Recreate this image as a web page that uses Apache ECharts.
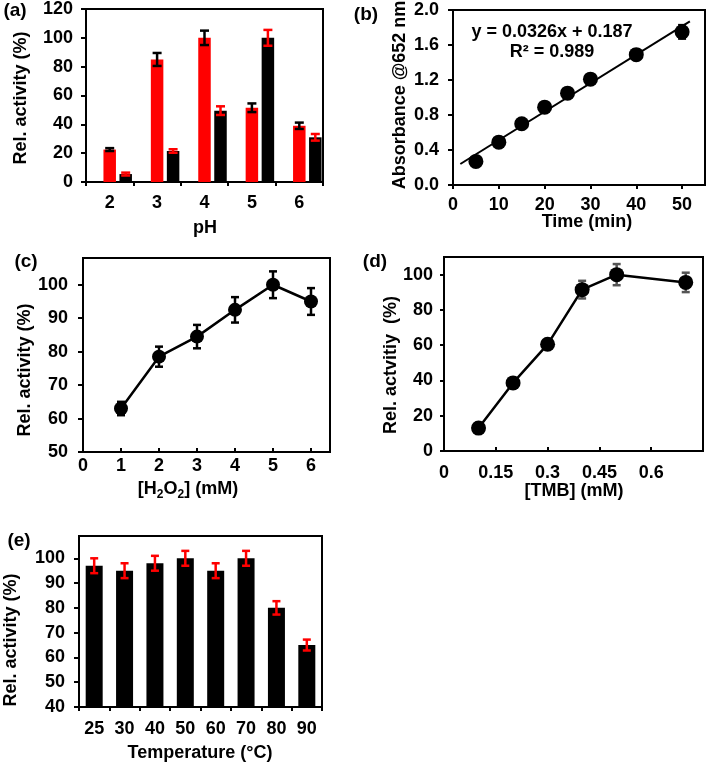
<!DOCTYPE html>
<html><head><meta charset="utf-8">
<script src="https://cdn.jsdelivr.net/npm/echarts@6/dist/echarts.min.js"></script>
<style>html,body{margin:0;padding:0;background:#fff}#c{width:710px;height:765px}</style>
</head><body><div id="c"></div><script>
// ---------- (a) pH ----------
const phCats = ['2', '3', '4', '5', '6'];
const phRed = [22.5, 85, 100, 51.5, 39];
const phRedErr = [1, 4.5, 5, 3, 2.2];
const phBlack = [5.5, 21.5, 49.5, 100, 31];
const phBlackErr = [1, 1.2, 3, 5.5, 2.3];
const aYTicks = [0, 20, 40, 60, 80, 100, 120];
// ---------- (b) time ----------
const timeX = [5, 10, 15, 20, 25, 30, 40, 50];
const absY = [0.27, 0.49, 0.70, 0.89, 1.05, 1.21, 1.49, 1.75];
const absErr = [0.02, 0.02, 0.02, 0.02, 0.02, 0.03, 0.06, 0.08];
const trendX = [1.6, 51.7];
const trendY = [0.24, 1.87];
const bXTicks = [0, 10, 20, 30, 40, 50];
const bYTicks = [0, 0.4, 0.8, 1.2, 1.6, 2.0];
// ---------- (c) H2O2 ----------
const h2o2X = [1, 2, 3, 4, 5, 6];
const h2o2Y = [63, 78.5, 84.5, 92.5, 100, 95];
const h2o2Err = [2, 3, 3.5, 3.8, 4, 4];
const cXTicks = [0, 1, 2, 3, 4, 5, 6];
const cYTicks = [50, 60, 70, 80, 90, 100];
// ---------- (d) TMB ----------
const tmbX = [0.1, 0.2, 0.3, 0.4, 0.5, 0.7];
const tmbY = [13, 38.6, 60.5, 91.5, 100, 95.6];
const tmbErr = [1.5, 2, 2, 5, 6, 5.5];
const dXTicks = [0, 0.15, 0.3, 0.45, 0.6];
const dYTicks = [0, 20, 40, 60, 80, 100];
// ---------- (e) temperature ----------
const tempCats = ['25', '30', '40', '50', '60', '70', '80', '90'];
const tempY = [97, 95, 98, 100, 95, 100, 80, 65];
const tempErr = [3, 3, 3, 3, 3, 3, 2.7, 2.2];
const eYTicks = [40, 50, 60, 70, 80, 90, 100];

const FONT = 'Liberation Sans';
const FS = 18;
const RED = '#ff0000';

function lbl(margin, vals, fmt) {
  const o = {color: '#000', fontWeight: 'bold', fontSize: FS, fontFamily: FONT, margin: margin};
  if (vals) o.customValues = vals;
  if (fmt) o.formatter = fmt;
  return o;
}
function tick(inside, len, vals) {
  const o = {show: true, inside: inside, length: len, lineStyle: {color: '#000', width: 2}};
  if (vals) o.customValues = vals;
  return o;
}
const AL = {show: true, onZero: false, lineStyle: {color: '#000', width: 2}};

function errBar(color, cap, lw, dx) {
  return function (params, api) {
    const x = api.value(0), y = api.value(1), e = api.value(2);
    const p1 = api.coord([x, y + e]);
    const p2 = api.coord([x, y - e]);
    const cx = p1[0] + (dx || 0);
    const st = {stroke: color, lineWidth: lw};
    return {type: 'group', children: [
      {type: 'line', shape: {x1: cx, y1: p1[1], x2: cx, y2: p2[1]}, style: st},
      {type: 'line', shape: {x1: cx - cap / 2, y1: p1[1], x2: cx + cap / 2, y2: p1[1]}, style: st},
      {type: 'line', shape: {x1: cx - cap / 2, y1: p2[1], x2: cx + cap / 2, y2: p2[1]}, style: st}
    ]};
  };
}
function txt(s, x, y, rot, extra) {
  return {type: 'text', x: x, y: y, rotation: rot || 0, z: 100,
    style: Object.assign({text: s, fontSize: FS, fontWeight: 'bold', fontFamily: FONT, fill: '#000',
      align: 'center', verticalAlign: 'middle'}, extra || {})};
}
const R90 = Math.PI / 2;
const gridStyle = {show: true, borderColor: '#000', borderWidth: 2, backgroundColor: 'transparent'};

const option = {
  animation: false,
  backgroundColor: '#fff',
  grid: [
    Object.assign({left: 86, top: 9, width: 237, height: 173}, gridStyle),
    Object.assign({left: 453, top: 10, width: 252, height: 175}, gridStyle),
    Object.assign({left: 83, top: 258, width: 247, height: 194}, gridStyle),
    Object.assign({left: 444, top: 257, width: 259, height: 194}, gridStyle),
    Object.assign({left: 79, top: 536, width: 243, height: 171}, gridStyle)
  ],
  xAxis: [
    {gridIndex: 0, type: 'category', data: phCats, axisLine: AL, axisTick: tick(false, 4), axisLabel: lbl(12), splitLine: {show: false}},
    {gridIndex: 1, type: 'value', min: 0, max: 55, interval: 10, axisLine: AL, axisTick: tick(false, 4, bXTicks), axisLabel: lbl(11, bXTicks), splitLine: {show: false}},
    {gridIndex: 2, type: 'value', min: 0, max: 6.5, interval: 1, axisLine: AL, axisTick: tick(true, 4, cXTicks), axisLabel: lbl(5, cXTicks), splitLine: {show: false}},
    {gridIndex: 3, type: 'value', min: 0, max: 0.75, interval: 0.15, axisLine: AL, axisTick: tick(true, 4, dXTicks), axisLabel: lbl(13, dXTicks), splitLine: {show: false}},
    {gridIndex: 4, type: 'category', data: tempCats, axisLine: AL, axisTick: tick(false, 4), axisLabel: lbl(13), splitLine: {show: false}}
  ],
  yAxis: [
    {gridIndex: 0, type: 'value', min: 0, max: 120, interval: 20, axisLine: AL, axisTick: tick(false, 5, aYTicks), axisLabel: lbl(13, aYTicks), splitLine: {show: false}},
    {gridIndex: 1, type: 'value', min: 0, max: 2.0, interval: 0.4, axisLine: AL, axisTick: tick(false, 5, bYTicks), axisLabel: lbl(14, bYTicks, v => Number(v).toFixed(1)), splitLine: {show: false}},
    {gridIndex: 2, type: 'value', min: 50, max: 108, interval: 10, axisLine: AL, axisTick: tick(false, 5, cYTicks), axisLabel: lbl(15, cYTicks), splitLine: {show: false}},
    {gridIndex: 3, type: 'value', min: 0, max: 110, interval: 20, axisLine: AL, axisTick: tick(false, 4, dYTicks), axisLabel: lbl(11, dYTicks), splitLine: {show: false}},
    {gridIndex: 4, type: 'value', min: 40, max: 109, interval: 10, axisLine: AL, axisTick: tick(false, 5, eYTicks), axisLabel: lbl(14, eYTicks), splitLine: {show: false}}
  ],
  series: [
    // (a)
    {type: 'bar', xAxisIndex: 0, yAxisIndex: 0, data: phCats.map(() => '-'), barWidth: 12.5, barGap: '28%'},
    {type: 'bar', xAxisIndex: 0, yAxisIndex: 0, data: phRed, barWidth: 12.5, barGap: '28%', itemStyle: {color: RED}},
    {type: 'bar', xAxisIndex: 0, yAxisIndex: 0, data: phBlack, barWidth: 12.5, barGap: '28%', itemStyle: {color: '#000'}},
    {type: 'custom', xAxisIndex: 0, yAxisIndex: 0, z: 5, renderItem: errBar('#000', 9, 2.5, 0),
      data: phCats.map((c, i) => [i, phRed[i], phRedErr[i]]), encode: {x: 0, y: 1}},
    {type: 'custom', xAxisIndex: 0, yAxisIndex: 0, z: 5, renderItem: errBar(RED, 9, 2.5, 16),
      data: phCats.map((c, i) => [i, phBlack[i], phBlackErr[i]]), encode: {x: 0, y: 1}},
    // (b)
    {type: 'line', xAxisIndex: 1, yAxisIndex: 1, data: trendX.map((x, i) => [x, trendY[i]]), symbol: 'none',
      lineStyle: {color: '#000', width: 2}, z: 2},
    {type: 'custom', xAxisIndex: 1, yAxisIndex: 1, z: 3, renderItem: errBar('#000', 8, 2, 0),
      data: timeX.map((x, i) => [x, absY[i], absErr[i]]), encode: {x: 0, y: 1}},
    {type: 'scatter', xAxisIndex: 1, yAxisIndex: 1, data: timeX.map((x, i) => [x, absY[i]]), symbol: 'circle',
      symbolSize: 15, itemStyle: {color: '#000', opacity: 1}, z: 4},
    // (c)
    {type: 'custom', xAxisIndex: 2, yAxisIndex: 2, z: 3, renderItem: errBar('#000', 8, 2.5, 0),
      data: h2o2X.map((x, i) => [x, h2o2Y[i], h2o2Err[i]]), encode: {x: 0, y: 1}},
    {type: 'line', xAxisIndex: 2, yAxisIndex: 2, data: h2o2X.map((x, i) => [x, h2o2Y[i]]), symbol: 'circle',
      symbolSize: 14, lineStyle: {color: '#000', width: 2.5}, itemStyle: {color: '#000'}, z: 4},
    // (d)
    {type: 'custom', xAxisIndex: 3, yAxisIndex: 3, z: 3, renderItem: errBar('#555', 8, 2.5, 0),
      data: tmbX.map((x, i) => [x, tmbY[i], tmbErr[i]]), encode: {x: 0, y: 1}},
    {type: 'line', xAxisIndex: 3, yAxisIndex: 3, data: tmbX.map((x, i) => [x, tmbY[i]]), symbol: 'circle',
      symbolSize: 15, lineStyle: {color: '#000', width: 2.5}, itemStyle: {color: '#000'}, z: 4},
    // (e)
    {type: 'bar', xAxisIndex: 4, yAxisIndex: 4, data: tempY, barWidth: 17, itemStyle: {color: '#000'}},
    {type: 'custom', xAxisIndex: 4, yAxisIndex: 4, z: 5, renderItem: errBar(RED, 8, 2.5, 0),
      data: tempCats.map((c, i) => [i, tempY[i], tempErr[i]]), encode: {x: 0, y: 1}}
  ],
  graphic: [
    txt('(a)', 15, 11, 0, {fontSize: 19}),
    txt('(b)', 366, 15, 0, {fontSize: 19}),
    txt('(c)', 26, 262, 0, {fontSize: 19}),
    txt('(d)', 375, 262, 0, {fontSize: 19}),
    txt('(e)', 19, 541, 0, {fontSize: 19}),
    txt('Rel. activity (%)', 21, 98, R90),
    txt('Absorbance @652 nm', 400, 95, R90),
    txt('Rel. activity (%)', 25, 370, R90),
    txt('Rel. actvitiy  (%)', 391, 365, R90),
    txt('Rel. activity (%)', 11, 640, R90),
    txt('pH', 205, 228),
    txt('Time (min)', 587, 222),
    txt('[H{s|2}O{s|2}] (mM)', 188, 489, 0, {lineHeight: 24, rich: {s: {fontSize: 12, fontWeight: 'bold', fontFamily: FONT, fill: '#000', lineHeight: 12, verticalAlign: 'bottom'}}}),
    txt('[TMB] (mM)', 574, 491),
    txt('Temperature (°C)', 200, 753),
    txt('y = 0.0326x + 0.187', 552, 32),
    txt('R² = 0.989', 552, 52)
  ]
};
const chart = echarts.init(document.getElementById('c'), null, {renderer: 'canvas'});
chart.setOption(option);
</script></body></html>
